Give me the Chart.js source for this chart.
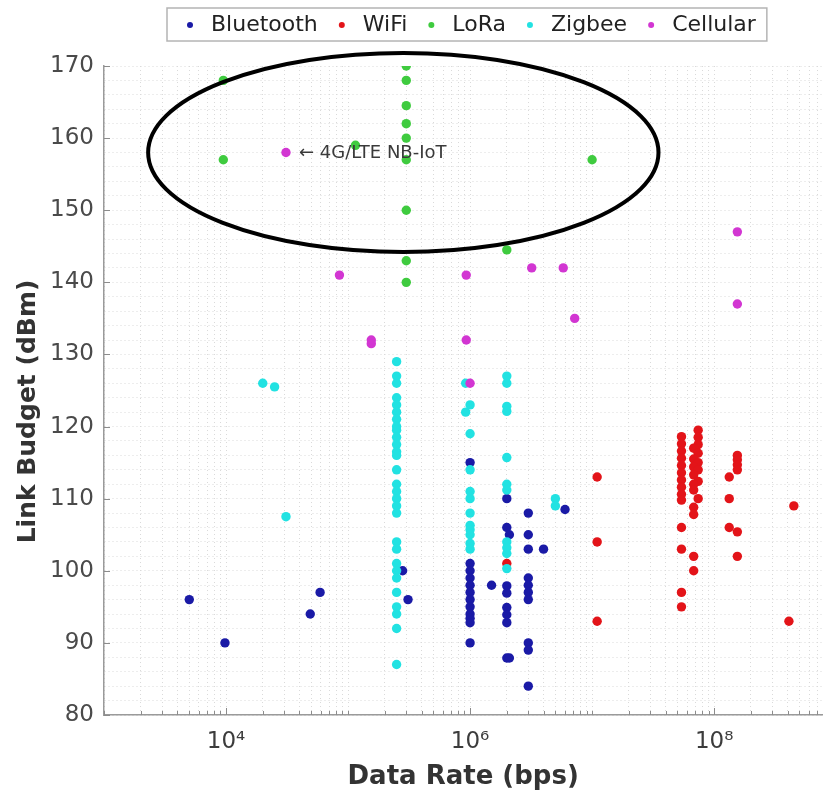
<!DOCTYPE html>
<html>
<head>
<meta charset="utf-8">
<title>Link Budget vs Data Rate</title>
<script src="https://cdn.jsdelivr.net/npm/chart.js@4.4.1/dist/chart.umd.min.js"></script>
<style>
  html, body { margin: 0; padding: 0; background: #fff; }
</style>
</head>
<body>
<canvas id="myChart" width="827" height="796"></canvas>
<script>
// technology names (legend order)
const technologies = ['Bluetooth', 'WiFi', 'LoRa', 'Zigbee', 'Cellular'];
const techColors = ['#1a1aa6', '#e31419', '#3fcb3f', '#22e2e2', '#d236d2'];

// data rate (bps) and link budget (dBm) per technology
const bluetoothRate = [5e3, 9.8e3, 4.9e4, 5.9e4, 2.8e5, 3.1e5,
    1e6, 1e6, 1e6, 1e6, 1e6, 1e6, 1e6, 1e6, 1e6, 1e6, 1e6, 1e6,
    1.5e6,
    2e6, 2e6, 2e6, 2e6, 2e6, 2e6, 2e6, 2e6, 2.1e6, 2.1e6,
    3e6, 3e6, 3e6, 3e6, 3e6, 3e6, 3e6, 3e6, 3e6, 3e6,
    4e6, 6e6];
const bluetoothBudget = [96, 90, 94, 97, 100, 96,
    115, 101, 100, 99, 98, 97, 96, 95, 94, 93.4, 92.8, 90,
    98,
    110, 106, 97.9, 96.9, 94.9, 93.9, 92.8, 87.9, 105, 87.9,
    108, 105, 103, 99, 98, 97, 96, 90, 89, 84,
    103, 108.5];

const wifiRate = [2e6, 1.1e7, 1.1e7, 1.1e7,
    5.4e7, 5.4e7, 5.4e7, 5.4e7, 5.4e7, 5.4e7, 5.4e7, 5.4e7, 5.4e7, 5.4e7, 5.4e7, 5.4e7, 5.4e7, 5.4e7,
    7.4e7, 7.4e7, 7.4e7, 6.8e7, 7.4e7, 6.8e7, 7.4e7, 6.8e7, 7.4e7, 6.8e7, 7.4e7, 6.8e7, 6.8e7,
    7.4e7, 6.8e7, 6.8e7, 6.8e7, 6.8e7,
    1.33e8, 1.33e8, 1.33e8,
    1.55e8, 1.55e8, 1.55e8, 1.55e8, 1.55e8, 1.55e8,
    4.5e8, 4.1e8];
const wifiBudget = [101, 113, 104, 93,
    118.6, 117.6, 116.6, 115.6, 114.6, 113.6, 112.6, 111.6, 110.6, 109.8, 106, 103, 97, 95,
    119.5, 118.5, 117.5, 117, 116.3, 115.5, 115, 114.4, 114, 113.3, 112.4, 112, 111.2,
    110, 108.8, 107.8, 102, 100,
    113, 110, 106,
    116, 115.4, 114.7, 114, 105.4, 102,
    109, 93];

const loraRate = [9.5e3, 9.5e3, 1.15e5,
    3e5, 3e5, 3e5, 3e5, 3e5, 3e5, 3e5, 3e5, 3e5,
    2e6, 1e7];
const loraBudget = [168, 157, 159,
    170, 168, 164.5, 162, 160, 157, 150, 143, 140,
    144.5, 157];

const zigbeeRate = [2e4, 2.5e4, 3.1e4,
    2.5e5, 2.5e5, 2.5e5, 2.5e5, 2.5e5, 2.5e5, 2.5e5, 2.5e5, 2.5e5, 2.5e5,
    2.5e5, 2.5e5, 2.5e5, 2.5e5, 2.5e5, 2.5e5, 2.5e5, 2.5e5, 2.5e5, 2.5e5,
    2.5e5, 2.5e5, 2.5e5, 2.5e5, 2.5e5, 2.5e5, 2.5e5, 2.5e5, 2.5e5,
    9.2e5, 9.2e5,
    1e6, 1e6, 1e6, 1e6, 1e6, 1e6, 1e6, 1e6, 1e6, 1e6, 1e6,
    2e6, 2e6, 2e6, 2e6, 2e6, 2e6, 2e6, 2e6, 2e6, 2e6, 2e6,
    5e6, 5e6];
const zigbeeBudget = [126, 125.5, 107.5,
    129, 127, 126, 124, 123, 122, 121, 120, 119.5, 118.5,
    117.5, 116.5, 116, 114, 112, 111, 110, 109, 108, 104,
    103, 101, 100, 99, 97, 95, 94, 92, 87,
    126, 122,
    123, 119, 114, 111, 110, 108, 106.3, 105.7, 105, 103.8, 103,
    127, 126, 122.8, 122.1, 115.7, 112, 111.2, 104, 103.2, 102.4, 100.3,
    110, 109];

const cellularRate = [3.1e4, 8.5e4, 1.55e5, 1.55e5, 9.3e5, 9.3e5, 1e6,
    3.2e6, 5.8e6, 7.2e6, 1.55e8, 1.55e8];
const cellularBudget = [158, 141, 132, 131.5, 141, 132, 126,
    142, 142, 135, 147, 137];

// axis ranges and labelled ticks
const rateMin = 1e3;
const rateMax = 7.7e8;
const budgetMin = 80;
const budgetMax = 170;
const rateTickValues = [1e4, 1e6, 1e8];
const rateTickLabels = ['10\u2074', '10\u2076', '10\u2078'];

// ellipse round the long-range group, in data units
const ellipseRate = [2.3e3, 3.5e7];
const ellipseBudget = [144.2, 171.8];
const noteText = '\u2190 4G/LTE NB-IoT';

function toPoints(xs, ys) {
    return xs.map((v, i) => ({ x: v, y: ys[i] }));
}

const seriesRates = [bluetoothRate, wifiRate, loraRate, zigbeeRate, cellularRate];
const seriesBudgets = [bluetoothBudget, wifiBudget, loraBudget, zigbeeBudget, cellularBudget];

const datasets = technologies.map((name, i) => ({
    label: name,
    data: toPoints(seriesRates[i], seriesBudgets[i]),
    backgroundColor: techColors[i],
    borderColor: techColors[i],
    borderWidth: 0,
    pointRadius: 4.7,
    pointHoverRadius: 4.7,
    order: technologies.length - i
}));

// legend drawn in a framed box above the plot
const legendBox = {
    id: 'legendBox',
    afterDraw(chart) {
        const ctx = chart.ctx;
        ctx.save();
        ctx.font = '22px "DejaVu Sans"';
        ctx.textBaseline = 'middle';
        const dotToText = 21, gap = 24;
        const widths = chart.data.datasets.map(ds => ctx.measureText(ds.label).width);
        let total = widths.reduce((s, w) => s + dotToText + w, 0) + gap * (widths.length - 1);
        const boxLeft = 167;
        ctx.fillStyle = '#fff';
        ctx.fillRect(boxLeft, 8, total + 34, 33);
        ctx.strokeStyle = '#b4b4b4';
        ctx.lineWidth = 1.5;
        ctx.strokeRect(boxLeft, 8, total + 34, 33);
        let cx = boxLeft + 23;
        chart.data.datasets.forEach((ds, i) => {
            ctx.beginPath();
            ctx.arc(cx, 25, 3, 0, 2 * Math.PI);
            ctx.fillStyle = ds.backgroundColor;
            ctx.fill();
            ctx.fillStyle = '#222';
            ctx.fillText(ds.label, cx + dotToText, 25);
            cx += dotToText + widths[i] + gap;
        });
        ctx.restore();
    }
};

// ellipse, note, y title and inward tick marks
const extras = {
    id: 'extras',
    afterDatasetsDraw(chart) {
        const { ctx, scales: { x, y } } = chart;
        const l = x.getPixelForValue(ellipseRate[0]);
        const r = x.getPixelForValue(ellipseRate[1]);
        const t = y.getPixelForValue(ellipseBudget[1]);
        const b = y.getPixelForValue(ellipseBudget[0]);
        ctx.save();
        ctx.beginPath();
        ctx.ellipse((l + r) / 2, (t + b) / 2, (r - l) / 2, (b - t) / 2, 0, 0, 2 * Math.PI);
        ctx.lineWidth = 4;
        ctx.strokeStyle = '#000';
        ctx.stroke();

        const px = x.getPixelForValue(cellularRate[0]);
        const py = y.getPixelForValue(cellularBudget[0]);
        ctx.font = '18px "DejaVu Sans"';
        ctx.fillStyle = '#3a3a3a';
        ctx.textBaseline = 'middle';
        ctx.fillText(noteText, px + 13, py + 1);
        ctx.restore();
    },
    afterDraw(chart) {
        const { ctx, chartArea: area, scales: { x, y } } = chart;
        ctx.save();
        ctx.strokeStyle = '#8c8c8c';
        ctx.lineWidth = 1;
        x.ticks.forEach(tk => {
            const p = Math.round(x.getPixelForValue(tk.value)) + 0.5;
            const major = rateTickValues.includes(tk.value);
            ctx.beginPath();
            ctx.moveTo(p, area.bottom);
            ctx.lineTo(p, area.bottom - (major ? 7 : 4));
            ctx.stroke();
        });
        y.ticks.forEach(tk => {
            if (tk.value % 10 !== 0) return;
            const p = Math.round(y.getPixelForValue(tk.value)) + 0.5;
            ctx.beginPath();
            ctx.moveTo(area.left, p);
            ctx.lineTo(area.left + 6, p);
            ctx.stroke();
        });

        ctx.translate(28, (area.top + area.bottom) / 2 + 21);
        ctx.rotate(-Math.PI / 2);
        ctx.font = 'bold 25px "DejaVu Sans"';
        ctx.fillStyle = '#333';
        ctx.textAlign = 'center';
        ctx.textBaseline = 'middle';
        ctx.fillText('Link Budget (dBm)', 0, 0);
        ctx.restore();
    }
};

const gridStyle = { color: '#dadada', lineWidth: 1, drawTicks: false };
const borderStyle = { color: '#9a9a9a', width: 1.5, dash: [1, 3] };

let myChart1 = document.getElementById('myChart').getContext('2d');

let chart1 = new Chart(myChart1, {
    type: 'scatter',
    data: { datasets: datasets },
    options: {
        responsive: false,
        animation: false,
        devicePixelRatio: 1,
        layout: { padding: { top: 66, left: 0, right: 0, bottom: 0 } },
        plugins: {
            legend: { display: false },
            tooltip: { enabled: false }
        },
        scales: {
            x: {
                type: 'logarithmic',
                min: rateMin,
                max: rateMax,
                grid: gridStyle,
                border: borderStyle,
                afterBuildTicks: (scale) => {
                    const ticks = [];
                    for (let e = 3; e <= 8; e++) {
                        for (let m = 1; m <= 9; m++) {
                            const v = m * Math.pow(10, e);
                            if (v <= rateMax) ticks.push({ value: v });
                        }
                    }
                    scale.ticks = ticks;
                },
                afterFit: (scale) => {
                    scale.height = 81;
                    scale.paddingLeft = 0;
                    scale.paddingRight = 0;
                },
                ticks: {
                    autoSkip: false,
                    maxRotation: 0,
                    padding: 13,
                    color: '#3c3c3c',
                    font: { family: 'DejaVu Sans', size: 23 },
                    callback: (value) => {
                        const k = rateTickValues.indexOf(value);
                        return k >= 0 ? rateTickLabels[k] : '';
                    }
                },
                title: {
                    display: true,
                    text: 'Data Rate (bps)',
                    color: '#333',
                    font: { family: 'DejaVu Sans', size: 26, weight: 'bold' },
                    padding: { top: 0, bottom: 3 }
                }
            },
            y: {
                min: budgetMin,
                max: budgetMax,
                grid: gridStyle,
                border: borderStyle,
                afterFit: (scale) => { scale.width = 104; },
                ticks: {
                    stepSize: 2,
                    autoSkip: false,
                    padding: 10,
                    color: '#4a4a4a',
                    font: { family: 'DejaVu Sans', size: 23 },
                    callback: (value) => (value % 10 === 0 ? value : '')
                }
            }
        }
    },
    plugins: [legendBox, extras]
});
</script>
</body>
</html>
